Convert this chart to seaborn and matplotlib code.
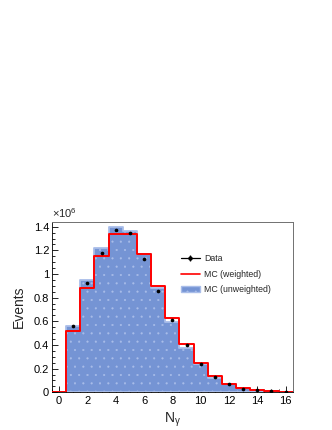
import numpy as np
import pandas as pd
import seaborn as sns
import matplotlib
matplotlib.use("Agg")
import matplotlib.pyplot as plt
from matplotlib.lines import Line2D
from matplotlib.patches import Patch
from matplotlib.ticker import MultipleLocator

# ---- data (values in units of 1e6 events) ----
n_gamma = list(range(0, 17))
mc_unweighted = [0.0, 0.560, 0.946, 1.223, 1.394, 1.363, 1.169, 0.882, 0.594, 0.372,
                 0.242, 0.118, 0.070, 0.034, 0.017, 0.008, 0.003]
mc_weighted = [0.0, 0.521, 0.882, 1.152, 1.341, 1.338, 1.169, 0.896, 0.631, 0.411,
               0.248, 0.138, 0.073, 0.034, 0.016, 0.007, 0.003]
data_vals = [0.0, 0.558, 0.921, 1.175, 1.369, 1.344, 1.124, 0.856, 0.611, 0.400,
             0.237, 0.130, 0.068, 0.031, 0.017, 0.008, 0.003]

scale = 1e6
df = pd.DataFrame({"ng": n_gamma,
                   "unw": np.array(mc_unweighted) * scale,
                   "w": np.array(mc_weighted) * scale,
                   "data": np.array(data_vals) * scale})

sns.set_style("ticks")
plt.rcParams["font.family"] = ["Liberation Sans", "DejaVu Sans"]
plt.rcParams["mathtext.fontset"] = "custom"
plt.rcParams["mathtext.rm"] = "Liberation Sans"
plt.rcParams["mathtext.it"] = "Liberation Sans"
plt.rcParams["hatch.linewidth"] = 0.3

fig = plt.figure(figsize=(3.32, 4.30), dpi=100)
ax = fig.add_axes([0.1566, 0.0877, 0.8816 - 0.1566, 0.4844 - 0.0877])

blue = "#7594d4"
edge_blue = "#a9bde9"

sns.histplot(data=df, x="ng", weights="unw", discrete=True, element="step",
             fill=True, color=blue, facecolor=blue, edgecolor=edge_blue,
             linewidth=1.3, hatch="..", alpha=1.0, ax=ax, zorder=1)
sns.histplot(data=df, x="ng", weights="w", discrete=True, element="step",
             fill=False, color="#ff0000", linewidth=1.4, ax=ax, zorder=3)
mask = df["data"] > 0
sns.scatterplot(data=df[mask], x="ng", y="data", color="black", s=7,
                linewidth=0, ax=ax, zorder=4)

ax.set_xlim(-0.5, 16.5)
ax.set_ylim(0, 1.442e6)
ax.xaxis.set_major_locator(MultipleLocator(2))
ax.xaxis.set_minor_locator(MultipleLocator(0.5))
ax.yaxis.set_major_locator(MultipleLocator(0.2e6))
ax.yaxis.set_minor_locator(MultipleLocator(0.05e6))

def yfmt(v, pos):
    s = f"{v/1e6:.1f}"
    if s.endswith(".0"):
        s = s[:-2]
    return s
ax.yaxis.set_major_formatter(matplotlib.ticker.FuncFormatter(yfmt))

ax.tick_params(which="both", direction="in", top=False, right=False,
               labelsize=8, colors="black", width=0.6)
ax.tick_params(which="major", length=4.5)
ax.tick_params(which="minor", length=2.2)
ax.tick_params(axis="y", pad=2)
ax.tick_params(axis="x", pad=3)

for side in ["left", "bottom"]:
    ax.spines[side].set_color("black")
    ax.spines[side].set_linewidth(0.6)
for side in ["top", "right"]:
    ax.spines[side].set_visible(True)
    ax.spines[side].set_color("#707070")
    ax.spines[side].set_linewidth(0.7)

ax.set_ylabel("Events", fontsize=10, labelpad=6)
ax.set_xlabel(r"N$_{\gamma}$", fontsize=10, labelpad=3)
ax.text(0.0, 1.012, r"×10$^{6}$", transform=ax.transAxes, fontsize=8,
        ha="left", va="bottom")

h_data = (Line2D([], [], color="black", lw=0.9),
          Line2D([], [], color="black", marker="o", ms=2.2, lw=0),
          Line2D([], [], color="black", marker="|", ms=4, mew=0.9, lw=0))
h_w = Line2D([], [], color="#ff0000", lw=1.2)
h_u = Patch(facecolor=blue, edgecolor=edge_blue, hatch="..", lw=1.0)
ax.legend([h_data, h_w, h_u], ["Data", "MC (weighted)", "MC (unweighted)"],
          loc="upper left", bbox_to_anchor=(0.52, 0.83), frameon=False,
          fontsize=6.3, handlelength=2.2, handletextpad=0.5, labelspacing=0.75,
          borderaxespad=0)

fig.savefig("out.png", dpi=100)
